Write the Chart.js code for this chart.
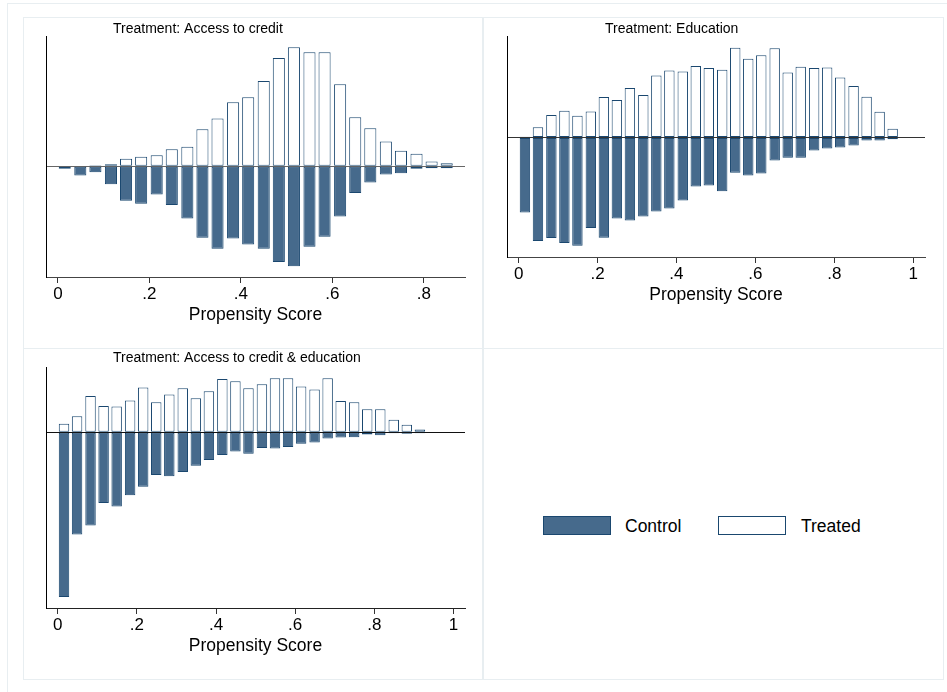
<!DOCTYPE html>
<html>
<head>
<meta charset="utf-8">
<script src="https://cdn.jsdelivr.net/npm/chart.js@4.4.1/dist/chart.umd.min.js"></script>
<style>
  html, body { margin: 0; padding: 0; background: #fff; }
  body { width: 947px; height: 692px; position: relative; overflow: hidden; font-family: "Liberation Sans", Arial, sans-serif; }
  .box { position: absolute; border: 1px solid #e8eef1; box-sizing: border-box; }
  canvas { position: absolute; }
  .lgbox { position: absolute; width: 68px; height: 19px; box-sizing: border-box; border: 1px solid #1a476f; }
  .lgtxt { position: absolute; font-size: 17.5px; color: #000; line-height: 20px; }
</style>
</head>
<body>
<div class="box" style="left:7px;top:3px;width:945px;height:695px;"></div>
<div class="box" style="left:23px;top:17px;width:460px;height:332px;"></div>
<div class="box" style="left:483px;top:17px;width:461px;height:332px;"></div>
<div class="box" style="left:23px;top:348px;width:460px;height:332px;"></div>
<div class="box" style="left:483px;top:348px;width:461px;height:332px;"></div>

<canvas id="c1" width="482" height="345" style="left:0;top:0;"></canvas>
<canvas id="c2" width="465" height="345" style="left:482px;top:0;"></canvas>
<canvas id="c3" width="482" height="347" style="left:0;top:345px;"></canvas>

<div class="lgbox" style="left:543px;top:516px;background:#466a8c;"></div>
<div class="lgtxt" style="left:625px;top:516px;">Control</div>
<div class="lgbox" style="left:718px;top:516px;background:#fff;"></div>
<div class="lgtxt" style="left:801px;top:516px;">Treated</div>

<script>
// ---------- Data ----------
const seriesNames = ["Control", "Treated"];
const xTicks = [0, 0.2, 0.4, 0.6, 0.8, 1];

// Panel 1: Treatment: Access to credit
const credBins = [0.015,0.049,0.082,0.116,0.149,0.182,0.216,0.249,0.283,0.316,0.349,0.383,0.416,0.450,0.483,0.516,0.550,0.583,0.617,0.650,0.683,0.717,0.750,0.784,0.817,0.850];
const credTreated = [0,0,0.03,0.06,0.22,0.28,0.33,0.51,0.58,1.11,1.43,1.92,2.07,2.56,3.25,3.57,3.42,3.42,2.46,1.47,1.14,0.74,0.46,0.37,0.14,0.09];
const credControl = [-0.08,-0.28,-0.18,-0.54,-1.04,-1.13,-0.85,-1.17,-1.57,-2.15,-2.48,-2.17,-2.35,-2.48,-2.88,-3.01,-2.42,-2.12,-1.51,-0.81,-0.49,-0.25,-0.21,-0.08,-0.06,-0.06];

// Panel 2: Treatment: Education
const eduBins = [0.016,0.049,0.083,0.116,0.149,0.183,0.216,0.249,0.282,0.316,0.349,0.382,0.416,0.449,0.482,0.516,0.549,0.582,0.615,0.649,0.682,0.715,0.749,0.782,0.815,0.849,0.882,0.915,0.948];
const eduTreated = [0.02,0.31,0.67,0.80,0.65,0.78,1.21,1.12,1.48,1.27,1.86,2.01,1.98,2.14,2.08,2.03,2.69,2.36,2.46,2.67,1.95,2.12,2.08,2.10,1.80,1.54,1.22,0.77,0.26];
const eduControl = [-2.25,-3.10,-3.01,-3.16,-3.24,-2.71,-3.00,-2.43,-2.49,-2.37,-2.22,-2.13,-1.89,-1.47,-1.44,-1.61,-1.06,-1.14,-1.08,-0.69,-0.61,-0.61,-0.39,-0.33,-0.30,-0.24,-0.09,-0.09,-0.05];

// Panel 3: Treatment: Access to credit & education
const bothBins = [0.016,0.049,0.083,0.116,0.149,0.183,0.216,0.249,0.282,0.316,0.349,0.382,0.416,0.449,0.482,0.516,0.549,0.582,0.615,0.649,0.682,0.715,0.749,0.782,0.815,0.849,0.882,0.915];
const bothTreated = [0.25,0.48,1.09,0.79,0.77,0.95,1.34,0.90,1.13,1.32,1.02,1.23,1.60,1.53,1.32,1.44,1.62,1.62,1.37,1.28,1.62,0.94,0.90,0.69,0.69,0.37,0.22,0.08];
const bothControl = [-4.96,-3.08,-2.81,-2.13,-2.24,-1.90,-1.64,-1.29,-1.33,-1.20,-1.01,-0.84,-0.69,-0.58,-0.65,-0.48,-0.49,-0.45,-0.35,-0.31,-0.19,-0.16,-0.15,-0.07,-0.09,-0.03,-0.05,-0.03];

// ---------- Chart setup ----------
const FONT = "'Liberation Sans', Arial, sans-serif";
const titlePlugin = {
  id: 'panelTitle',
  afterDraw(chart, args, opts) {
    const ctx = chart.ctx;
    ctx.save();
    ctx.font = '14px ' + FONT;
    ctx.fillStyle = '#000';
    ctx.textBaseline = 'alphabetic';
    ctx.textAlign = 'left';
    ctx.fillText(opts.text, opts.x, opts.y);
    ctx.restore();
  }
};

function fmtTick(v) {
  const r = Math.round(v * 10) / 10;
  if (r === 0) return '0';
  if (r === 1) return '1';
  return String(r).replace(/^0/, '');
}

function makeChart(id, bins, control, treated, cfg) {
  const toXY = arr => arr.map((v, i) => ({ x: bins[i], y: v }));
  return new Chart(document.getElementById(id), {
    type: 'bar',
    data: {
      datasets: [
        { label: seriesNames[0], data: toXY(control), backgroundColor: '#466a8c', borderColor: '#1a476f',
          borderWidth: 1, borderSkipped: false, grouped: false, barPercentage: 0.8, categoryPercentage: 1 },
        { label: seriesNames[1], data: toXY(treated), backgroundColor: '#ffffff', borderColor: '#1a476f',
          borderWidth: 1, borderSkipped: false, grouped: false, barPercentage: 0.8, categoryPercentage: 1 }
      ]
    },
    plugins: [titlePlugin],
    options: {
      responsive: false,
      animation: false,
      devicePixelRatio: 1,
      layout: { padding: cfg.padding },
      plugins: {
        legend: { display: false },
        tooltip: { enabled: false },
        panelTitle: cfg.title
      },
      scales: {
        x: {
          type: 'linear',
          min: cfg.xmin, max: cfg.xmax,
          offset: false,
          afterBuildTicks: s => { s.ticks = xTicks.filter(t => t <= cfg.xmax).map(v => ({ value: v })); },
          afterFit: s => { s.height = 49; },
          ticks: { callback: fmtTick, color: '#000', font: { size: 17, family: FONT }, padding: 1, maxRotation: 0, autoSkip: false },
          grid: { offset: false, drawOnChartArea: false, drawTicks: true, tickLength: 6, color: '#333', lineWidth: 1 },
          border: { display: true, color: cfg.xAxisColor, width: 1 },
          title: { display: true, text: 'Propensity Score', color: '#000', font: { size: 17.5, family: FONT }, padding: { top: 0, bottom: 0 } }
        },
        y: {
          type: 'linear',
          min: cfg.ymin, max: cfg.ymax,
          afterBuildTicks: s => { s.ticks = [{ value: 0 }]; },
          afterFit: s => { s.width = 0; },
          ticks: { display: false },
          grid: { drawTicks: false, color: cfg.zeroColor, lineWidth: 1 },
          border: { display: true, color: '#000', width: 1 }
        }
      }
    }
  });
}

makeChart('c1', credBins, credControl, credTreated, {
  padding: { left: 46, top: 36, right: 17, bottom: 19 },
  xmin: -0.026, xmax: 0.89, ymin: -3.33, ymax: 3.91,
  xAxisColor: '#444', zeroColor: '#666',
  title: { text: 'Treatment: Access to credit', x: 113, y: 32.5 }
});
makeChart('c2', eduBins, eduControl, eduTreated, {
  padding: { left: 25, top: 36, right: 22, bottom: 39 },
  xmin: -0.0295, xmax: 1.03, ymin: -3.58, ymax: 3.04,
  xAxisColor: '#444', zeroColor: '#333',
  title: { text: 'Treatment: Education', x: 123, y: 32.5 }
});
makeChart('c3', bothBins, bothControl, bothTreated, {
  padding: { left: 46, top: 22, right: 17, bottom: 35 },
  xmin: -0.0295, xmax: 1.029, ymin: -5.29, ymax: 1.96,
  xAxisColor: '#222', zeroColor: '#111',
  title: { text: 'Treatment: Access to credit & education', x: 113, y: 16.7 }
});
</script>
</body>
</html>
